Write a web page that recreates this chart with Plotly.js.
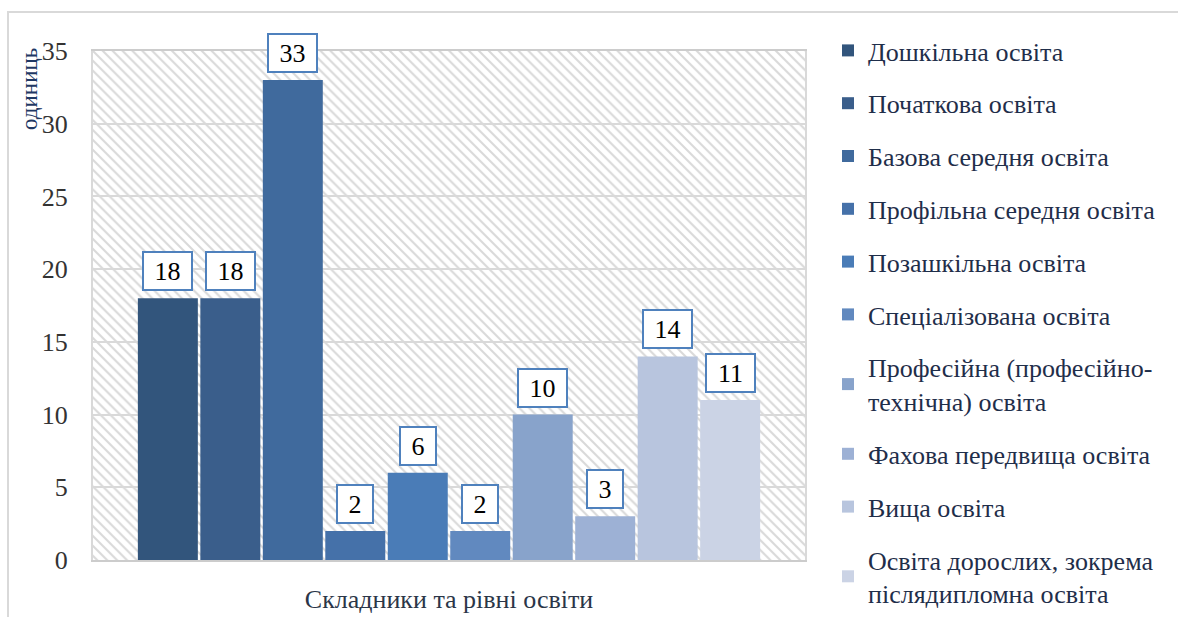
<!DOCTYPE html>
<html>
<head>
<meta charset="utf-8">
<script src="https://cdn.plot.ly/plotly-3.0.1.min.js"></script>
<style>html,body{margin:0;padding:0;background:#fff;}#chart{width:1178px;height:617px;}</style>
</head>
<body>
<div id="chart"></div>
<script>
// ---- data ----
const category = 'Складники та рівні освіти';
const seriesNames = [
  'Дошкільна освіта',
  'Початкова освіта',
  'Базова середня освіта',
  'Профільна середня освіта',
  'Позашкільна освіта',
  'Спеціалізована освіта',
  'Професійна (професійно-<br>технічна) освіта',
  'Фахова передвища освіта',
  'Вища освіта',
  'Освіта дорослих, зокрема<br>післядипломна освіта'
];
const seriesValues = [18, 18, 33, 2, 6, 2, 10, 3, 14, 11];
const seriesColors = ['#32557c', '#3a5e8b', '#406a9d', '#4571a9', '#4a7cb7',
                      '#6189bf', '#88a3cb', '#9db1d5', '#b8c5de', '#cbd3e5'];
const yTitle = 'одиниць';

// ---- layout constants ----
const W = 1178, H = 617;
const M = {l: 93, r: 373, t: 51, b: 57};
const plotW = W - M.l - M.r;
const plotH = H - M.t - M.b;
const bargap = 0.1225;
const step = plotW * (1 - bargap) / seriesValues.length;
const serif = 'Liberation Serif';
const FS = 26;

const traces = [];
// hatched plot-area background (decorative, on hidden base axes)
traces.push({
  type: 'scatter', mode: 'lines', xaxis: 'x', yaxis: 'y',
  x: [0, 1, 1, 0, 0], y: [0, 0, 1, 1, 0],
  fill: 'toself', fillcolor: 'rgba(0,0,0,0)',
  fillpattern: {shape: '\\', fgcolor: '#d9d9d9', bgcolor: 'rgba(0,0,0,0)', size: 7, solidity: 0.3},
  line: {width: 0}, hoverinfo: 'skip', showlegend: false
});

const annotations = [];
seriesValues.forEach((v, i) => {
  traces.push({
    type: 'bar', xaxis: 'x2', yaxis: 'y2',
    name: seriesNames[i], legendgroup: 'g' + i,
    x: [category], y: [v],
    marker: {color: seriesColors[i], line: {width: 0}},
    hoverinfo: 'name+y'
  });
  const label = String(v);
  annotations.push({
    xref: 'x2', yref: 'y2', x: category, y: v,
    xshift: (i - (seriesValues.length - 1) / 2) * step,
    yanchor: 'bottom', yshift: 7,
    text: label, showarrow: false,
    font: {family: serif, size: FS, color: '#000'},
    bgcolor: '#ffffff', bordercolor: '#4f81bd', borderwidth: 2, borderpad: 3,
    width: label.length * 13 + 15, height: 30
  });
});

annotations.push({
  xref: 'paper', yref: 'paper', x: (30 - M.l) / plotW, y: (H - M.b - 89) / plotH,
  xanchor: 'center', yanchor: 'middle', textangle: -90, showarrow: false,
  text: yTitle, font: {family: serif, size: 23, color: '#1f3864'}
});

const layout = {
  width: W, height: H,
  margin: M,
  paper_bgcolor: '#ffffff', plot_bgcolor: '#ffffff',
  font: {family: serif, size: FS, color: '#333'},
  barmode: 'group', bargap: bargap, bargroupgap: 0.04,
  xaxis: {range: [0, 1], visible: false, fixedrange: true},
  yaxis: {range: [0, 1], visible: false, fixedrange: true},
  xaxis2: {
    overlaying: 'x', anchor: 'y2', type: 'category',
    showline: true, linecolor: '#cccccc', linewidth: 2, mirror: true,
    ticks: '', ticklabelstandoff: 15,
    tickfont: {family: serif, size: FS, color: '#2b3648'}
  },
  yaxis2: {
    overlaying: 'y', anchor: 'x2', range: [0, 35], dtick: 5,
    showgrid: true, gridcolor: '#d9d9d9', gridwidth: 2,
    zeroline: false, showline: true, linecolor: '#d9d9d9', linewidth: 2, mirror: true,
    ticks: '', ticklabelstandoff: 18,
    tickfont: {family: serif, size: FS, color: '#333333'}
  },
  legend: {
    x: (828 - M.l) / plotW, xanchor: 'left', y: 1.035, yanchor: 'top',
    traceorder: 'grouped', tracegroupgap: 16, maxheight: 640,
    font: {family: serif, size: FS, color: '#1f2e4a'},
    bgcolor: 'rgba(0,0,0,0)'
  },
  annotations: annotations,
  shapes: [{
    type: 'rect', xref: 'paper', yref: 'paper', layer: 'below',
    x0: (8 - M.l) / plotW, x1: (1220 - M.l) / plotW,
    y0: (H - M.b - 660) / plotH, y1: (H - M.b - 12) / plotH,
    line: {color: '#d9d9d9', width: 2}, fillcolor: 'rgba(0,0,0,0)'
  }]
};

Plotly.newPlot('chart', traces, layout, {displayModeBar: false, staticPlot: true});
</script>
</body>
</html>
